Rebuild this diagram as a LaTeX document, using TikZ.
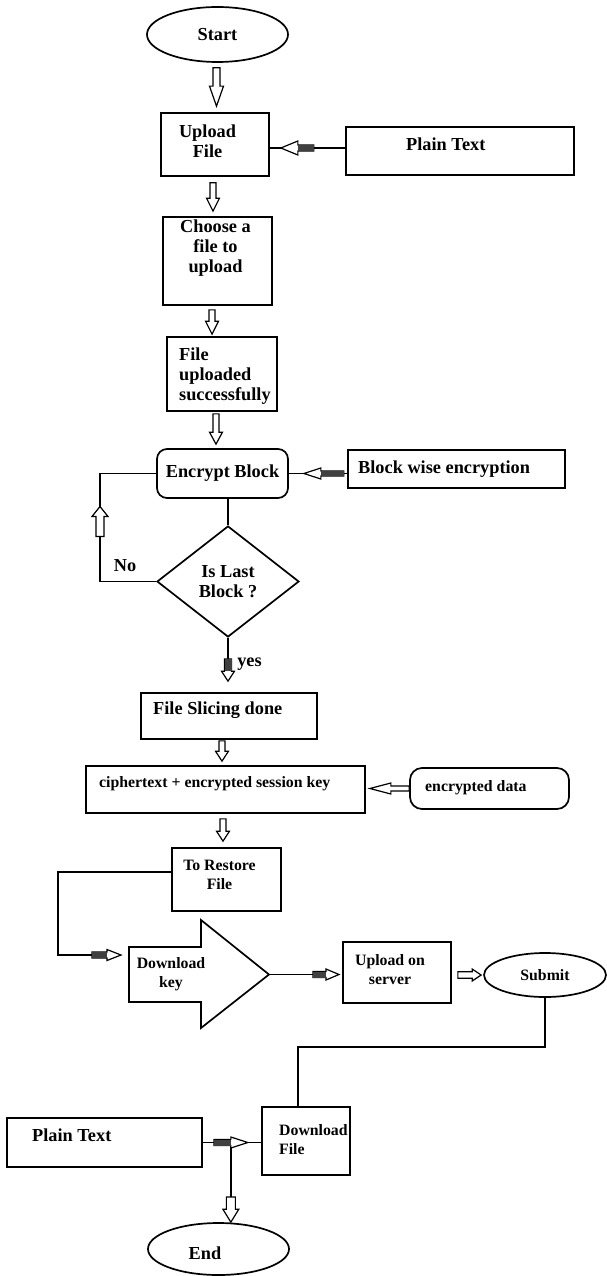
\documentclass[tikz,border=0pt]{standalone}
\usepackage{fontspec}
\setmainfont{Liberation Serif}
\usetikzlibrary{calc,shapes.geometric}
\newcommand\bigtext{\fontsize{18.3pt}{20pt}\selectfont\bfseries}
\newcommand\smalltext{\fontsize{15.8pt}{19pt}\selectfont\bfseries}
% hollow block arrow between two named coordinates
% #1 shaft fill, #2 tail, #3 tip, #4 head length, #5 half shaft width, #6 half head width
\newcommand\blockarrow[6]{%
  \coordinate (hb) at ($(#3)!#4!(#2)$);
  \filldraw[arrowline, fill=white]
    ($(#2)!#5!90:(#3)$) -- ($(hb)!#5!90:(#3)$) -- ($(hb)!#6!90:(#3)$) -- (#3)
    -- ($(hb)!#6!-90:(#3)$) -- ($(hb)!#5!-90:(#3)$) -- ($(#2)!#5!-90:(#3)$) -- cycle;
  \path[fill=#1] ($(#2)!#5!90:(#3)$) -- ($(hb)!#5!90:(#3)$)
    -- ($(hb)!#5!-90:(#3)$) -- ($(#2)!#5!-90:(#3)$) -- cycle;
}
\begin{document}
\begin{tikzpicture}[x=1pt,y=-1pt,
  outline/.style={draw=black, line width=1.7pt},
  box/.style={outline, rectangle, inner sep=0pt},
  rbox/.style={box, rounded corners=10pt},
  oval/.style={outline, ellipse, inner sep=0pt},
  decision/.style={outline, diamond, inner sep=0pt, align=center},
  txt/.style={inner sep=0pt, font=\bigtext},
  stxt/.style={inner sep=0pt, font=\smalltext},
  conn/.style={line width=1.5pt},
  arrowline/.style={draw=black, line width=1.2pt, line join=miter},
]
\fill[white] (0,0) rectangle (607,1276);
\useasboundingbox (0,0) rectangle (607,1276);

% ---- boxes ----
\node[oval, minimum width=141pt, minimum height=55pt, font=\bigtext] (start) at (217.5,34.5) {Start};

\node[box, minimum width=108pt, minimum height=63pt] (upload) at (215,144.5) {};
\node[txt, align=center] (upload-t) at (207.5,141) {Upload\\File};

\node[box, minimum width=228pt, minimum height=48pt] (plainA) at (460,151) {};
\node[txt, anchor=mid west] (plainA-t) at (406,148) {Plain Text};

\node[box, minimum width=109pt, minimum height=88pt] (choose) at (217.5,261) {};
\node[txt, align=center] (choose-t) at (215.5,248) {Choose a\\file to\\upload};

\node[box, minimum width=110pt, minimum height=74pt] (fileup) at (222,374) {};
\node[txt, align=left, anchor=west] (fileup-t) at (179,376) {File\\uploaded\\successfully};

\node[rbox, minimum width=131pt, minimum height=49pt, font=\bigtext] (encrypt) at (222.5,473.5) {Encrypt Block};

\node[box, minimum width=217pt, minimum height=38pt] (blockwise) at (456.5,469) {};
\node[txt, anchor=mid west] (blockwise-t) at (358,471) {Block wise encryption};

\node[decision, minimum width=142pt, minimum height=111pt, font=\bigtext] (dec) at (228,581.5) {Is Last\\Block ?};
\node[txt] (no) at (125,566) {No};
\node[txt] (yes) at (249.5,664) {yes};

\node[box, minimum width=176pt, minimum height=46pt] (slicing) at (229,716) {};
\node[txt, anchor=mid west] (slicing-t) at (153,712) {File Slicing done};

\node[box, minimum width=279pt, minimum height=47pt] (cipher) at (225.5,789.5) {};
\node[stxt, anchor=mid west] (cipher-t) at (99,785) {ciphertext + encrypted session key};

\node[box, rounded corners=12pt, minimum width=159pt, minimum height=41pt] (encdata) at (489.5,788.5) {};
\node[stxt, anchor=mid west] (encdata-t) at (425,789.5) {encrypted data};

\node[box, minimum width=109pt, minimum height=63pt] (restore) at (226.5,879.5) {};
\node[stxt, align=center] (restore-t) at (219.5,875) {To Restore\\File};

% block-arrow shaped step
\draw[outline, line join=miter] (129,947) -- (201,947) -- (201,920) -- (269,974.5)
  -- (201,1028) -- (201,1002) -- (129,1002) -- cycle;
\coordinate (dk-tip) at (269,974.5);
\node[stxt, align=center] (dlkey) at (171,974) {Download\\key};

\node[box, minimum width=108pt, minimum height=61pt] (upserver) at (397,972.5) {};
\node[stxt, align=center] (upserver-t) at (390,970) {Upload on\\server};

\node[oval, minimum width=122pt, minimum height=44pt, font=\smalltext] (submit) at (545,975) {Submit};

\node[box, minimum width=88pt, minimum height=68pt] (dlfile) at (306,1141) {};
\node[stxt, align=left, anchor=west] (dlfile-t) at (279,1140) {Download\\File};

\node[box, minimum width=195pt, minimum height=49pt] (plainB) at (104.5,1142.5) {};
\node[txt, anchor=mid west] (plainB-t) at (32,1139) {Plain Text};

\node[oval, minimum width=141pt, minimum height=52pt] (end) at (218.5,1249) {};
\node[txt] (end-t) at (205,1253) {End};

% ---- connectors ----
% Start -> Upload File
\coordinate (a1s) at ($(start.south)+(-1,5)$);
\coordinate (a1e) at ($(upload.north)+(1.5,-6)$);
\blockarrow{none}{a1s}{a1e}{20pt}{3.5pt}{7pt}

% Plain Text -> Upload File
\coordinate (pa-l) at ($(upload.east)+(0,3.5)$);
\draw[conn] (pa-l) -- (pa-l -| plainA.west);
\coordinate (a10s) at ($(pa-l)+(44,0)$);
\coordinate (a10e) at ($(pa-l)+(11,0)$);
\blockarrow{black!75}{a10s}{a10e}{17pt}{3pt}{7pt}

% Upload File -> Choose a file
\coordinate (a2s) at ($(upload.south)+(-2,6)$);
\coordinate (a2e) at ($(choose.north)+(-4.5,-5)$);
\blockarrow{none}{a2s}{a2e}{13pt}{3pt}{6.5pt}

% Choose a file -> File uploaded
\coordinate (a3s) at ($(choose.south)+(-5.5,4)$);
\coordinate (a3e) at ($(fileup.north)+(-10,-2)$);
\blockarrow{none}{a3s}{a3e}{13pt}{3pt}{6.5pt}

% File uploaded -> Encrypt Block
\coordinate (a4s) at ($(fileup.south)+(-6,2)$);
\coordinate (a4e) at ($(encrypt.north)+(-6.5,-4)$);
\blockarrow{none}{a4s}{a4e}{12pt}{3pt}{6.5pt}

% Encrypt Block -> decision
\draw[conn] (encrypt.south -| dec.north) -- (dec.north);

% "No" loop back to Encrypt Block
\coordinate (loopx) at (100,0);
\draw[conn] (dec.west) -- (dec.west -| loopx) |- (encrypt.west);
\coordinate (lp-s) at ($(dec.west -| loopx)+(0,-45)$);
\coordinate (lp-e) at ($(lp-s)+(0,-30)$);
\blockarrow{none}{lp-s}{lp-e}{10pt}{4pt}{8pt}

% Block wise encryption -> Encrypt Block
\draw[conn] (encrypt.east) -- (encrypt.east -| blockwise.west);
\coordinate (a9s) at ($(encrypt.east)+(55,0)$);
\coordinate (a9e) at ($(encrypt.east)+(15,0)$);
\blockarrow{black!75}{a9s}{a9e}{17pt}{2.5pt}{5.5pt}

% "yes" -> File Slicing done
\coordinate (a5s) at ($(dec.south)+(0,21)$);
\coordinate (a5e) at ($(slicing.north)+(-1,-11)$);
\draw[conn] (dec.south) -- (a5s);
\blockarrow{black!75}{a5s}{a5e}{10pt}{3.5pt}{6.5pt}

% File Slicing done -> ciphertext
\coordinate (a6s) at ($(slicing.south)+(-7,1)$);
\coordinate (a6e) at ($(cipher.north)+(-3.5,-4)$);
\blockarrow{none}{a6s}{a6e}{10pt}{3pt}{6.5pt}

% encrypted data -> ciphertext
\coordinate (a11s) at (encdata.west);
\coordinate (a11e) at ($(encdata.west -| cipher.east)+(4,0)$);
\blockarrow{none}{a11s}{a11e}{21pt}{2.5pt}{5.5pt}

% ciphertext -> To Restore File
\coordinate (a7s) at ($(cipher.south)+(-2.5,5)$);
\coordinate (a7e) at ($(restore.north)+(-3.5,-6)$);
\blockarrow{none}{a7s}{a7e}{10pt}{3pt}{6.5pt}

% To Restore File -> Download key
\coordinate (rl-c) at (58,955);
\coordinate (rl-a) at (92,955);
\coordinate (rl-b) at (121,955);
\draw[conn] ($(restore.west)+(0,-7.5)$) -| (rl-c) -- (rl-a);
\blockarrow{black!75}{rl-a}{rl-b}{14pt}{3pt}{5.5pt}

% Download key -> Upload on server
\coordinate (a13s) at (313,974.5);
\coordinate (a13e) at (339,974.5);
\draw[conn] (dk-tip) -- (a13s);
\blockarrow{black!75}{a13s}{a13e}{13pt}{3pt}{5.5pt}

% Upload on server -> Submit
\coordinate (a14s) at ($(upserver.east |- submit.west)+(6,0)$);
\coordinate (a14e) at ($(submit.west)+(-2,0)$);
\blockarrow{none}{a14s}{a14e}{9pt}{3.3pt}{6pt}

% Submit -> Download File
\coordinate (sd) at (0,1047);
\draw[conn] (submit.south) -- (submit.south |- sd) -| ($(dlfile.north)+(-8,0)$);

% Plain Text -> Download File, branch to End
\draw[conn] (plainB.east) -- (plainB.east -| dlfile.west);
\coordinate (jn) at ($(plainB.east)+(28,0)$);
\coordinate (a16s) at ($(jn)+(0,54.5)$);
\coordinate (a16e) at (jn |- end.north);
\draw[conn] (jn) -- (a16s);
\coordinate (a15s) at ($(plainB.east)+(11,0)$);
\coordinate (a15e) at ($(plainB.east)+(45,0)$);
\blockarrow{black!75}{a15s}{a15e}{17pt}{3pt}{5.5pt}
\blockarrow{none}{a16s}{a16e}{13pt}{4.5pt}{8pt}
\end{tikzpicture}
\end{document}
